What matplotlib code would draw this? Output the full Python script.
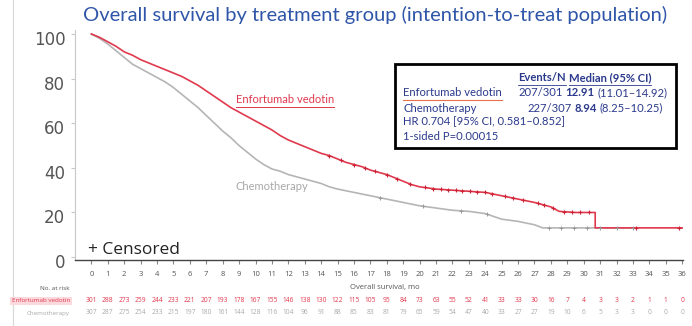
"""Overall survival Kaplan-Meier plot with numbers at risk.
"""
import numpy as np
import matplotlib
matplotlib.use('agg')
import matplotlib.pyplot as plt
from matplotlib.patches import Rectangle
from matplotlib.lines import Line2D
from matplotlib.transforms import ScaledTranslation, blended_transform_factory

plt.rcParams['font.family'] = ['Open Sans', 'DejaVu Sans']

# KM estimates, months vs % alive
ev_months = [0, 0.5, 1, 1.5, 2, 2.5, 3, 3.5, 4, 4.5, 5, 5.5, 6, 6.5, 7, 7.5,
             8, 8.5, 9, 9.5, 10, 10.5, 11, 11.5, 12, 12.5, 13, 13.5, 14, 14.5,
             15, 15.5, 16, 16.5, 17, 17.5, 18, 18.5, 19, 19.5, 20, 21, 22, 23,
             24, 25, 26, 27, 28, 28.5, 29.5, 30.7, 30.7, 36]
ev_surv = [100, 98.5, 96.5, 94.5, 92, 90.5, 88.5, 87, 85.5, 84, 82.5, 81, 79,
           77, 74.5, 72, 69.5, 67, 65, 63, 61, 59, 57, 54.5, 52.5, 51, 49.5,
           48, 46.5, 45.5, 44, 42.5, 41.5, 40.5, 39, 38, 37, 35.5, 34, 32.5,
           31.5, 30.5, 30, 29.5, 29, 27.5, 26, 24.5, 22.5, 20.5, 20, 20, 13.1,
           13.1]

chemo_months = [0, 0.5, 1, 1.5, 2, 2.5, 3, 3.5, 4, 4.5, 5, 5.5, 6, 6.5, 7,
                7.5, 8, 8.5, 9, 9.5, 10, 10.5, 11, 11.5, 12, 12.5, 13, 13.5,
                14, 14.5, 15, 16, 17, 18, 19, 20, 21, 22, 23, 24, 25, 26, 27,
                27.5, 33]
chemo_surv = [100, 98, 95.5, 92.5, 89.5, 86.5, 84.5, 82.5, 80.5, 78.5, 76, 73,
              70, 67, 63.5, 60, 56.5, 53.5, 50, 47, 44, 41.5, 39.5, 38.5, 37,
              36, 35, 34, 33, 31.5, 30.5, 29, 27.5, 26, 24.5, 23, 22, 21, 20.5,
              19.5, 17, 16, 14.5, 13.1, 13.1]

ev_censor = [14.5, 15.2, 16, 16.7, 17.3, 18, 18.6, 19.4, 20.3, 20.8, 21.3,
             21.7, 22.2, 22.6, 23.1, 23.5, 24, 24.4, 25.2, 25.7, 26.3, 27.2,
             27.6, 28.1, 28.8, 29.3, 29.8, 30.3, 33.2, 35.8]
chemo_censor = [17.6, 20.2, 22.5, 24.1, 27.9, 28.6, 29.4, 30.2, 31.0, 32.0, 33.0]

risk_months = list(range(37))
ev_at_risk = [301, 288, 273, 259, 244, 233, 221, 207, 193, 178, 167, 155, 146,
              138, 130, 122, 115, 105, 95, 84, 73, 63, 55, 52, 41, 33, 33, 30,
              16, 7, 4, 3, 3, 2, 1, 1, 0]
chemo_at_risk = [307, 287, 275, 254, 233, 215, 197, 180, 161, 144, 128, 116,
                 104, 96, 91, 88, 85, 83, 81, 79, 65, 59, 54, 47, 40, 33, 27,
                 27, 19, 10, 6, 5, 3, 3, 0, 0, 0]

W, H = 692, 326
RED = '#e0394d'
GREY = '#b5b5b5'
NAVY = '#2b3a8c'


def fx(x):
    return x / W


def fy(y):
    return 1 - y / H


def underline(fig, t, color, lw=0.8, gap=1.5):
    bb = t.get_window_extent(renderer=fig.canvas.get_renderer())
    y = (bb.y0 - gap) / H
    fig.add_artist(Line2D([bb.x0 / W, bb.x1 / W], [y, y], color=color, lw=lw))


def text_runs(fig, x, y, parts, **kw):
    """Write pieces one after another on a line, each with its own weight."""
    r = fig.canvas.get_renderer()
    out = []
    for txt, wt in parts:
        t = fig.text(fx(x), fy(y), txt, weight=wt, va='center', **kw)
        out.append(t)
        x = t.get_window_extent(renderer=r).x1 + 3
    return out


def main():
    fig = plt.figure(figsize=(W / 100, H / 100), dpi=100)
    ax = fig.add_axes([fx(75), fy(260), fx(683) - fx(75), fy(30) - fy(260)])
    ax.set_xlim(-1.0, 36.05)
    ax.set_ylim(-1.3, 101.8)

    ax.plot(chemo_months, chemo_surv, color=GREY, lw=1.2)
    ax.plot(ev_months, ev_surv, color=RED, lw=1.2)
    ax.plot(chemo_censor, np.interp(chemo_censor, chemo_months, chemo_surv),
            '+', color='#999999', ms=3.5, mew=0.7)
    ax.plot(ev_censor, np.interp(ev_censor, ev_months, ev_surv), '+',
            color='#cc2236', ms=3.5, mew=0.8)

    for s in ('top', 'right'):
        ax.spines[s].set_visible(False)
    ax.spines['left'].set_color('#c8c8c8')
    ax.spines['bottom'].set_color('#444444')
    ax.spines['bottom'].set_linewidth(1.0)

    ax.set_yticks([0, 20, 40, 60, 80, 100])
    ax.tick_params(axis='y', length=3, color='#c8c8c8', labelsize=12,
                   labelcolor='#555555', pad=4)
    off = ScaledTranslation(0, -4 / 100, fig.dpi_scale_trans)
    for lab in ax.get_yticklabels():
        lab.set_transform(lab.get_transform() + off)
        lab.set_fontfamily('DejaVu Sans')

    ax.set_xticks(risk_months)
    ax.tick_params(axis='x', length=3, color='#888888', labelsize=5.5,
                   labelcolor='#555555', pad=5)

    ax.text(-0.2, 3.0, '+ Censored', fontsize=12.5, color='#222222',
            va='center')

    t_ev = ax.text(8.8, 70.5, 'Enfortumab vedotin', fontsize=8, color=RED,
                   va='center', family='Lato')
    ax.text(8.8, 31.5, 'Chemotherapy', fontsize=8, color='#a8a8a8',
            va='center', family='Lato')

    # title
    fig.text(fx(375), fy(15), 'Overall survival by treatment group '
             '(intention-to-treat population)', ha='center', va='center',
             fontsize=14.5, color='#2f55a8', family='Lato')

    # legend box
    fig.add_artist(Rectangle((fx(395), fy(148)), fx(676) - fx(395),
                             fy(64) - fy(148), transform=fig.transFigure,
                             fill=False, ec='black', lw=2))
    box = dict(fontsize=8.1, color=NAVY, family='Lato')
    hdr = text_runs(fig, 518, 78, [('Events/N', 'bold'),
                                   ('Median (95% CI)', 'bold')], **box)
    lab1 = text_runs(fig, 403, 93, [('Enfortumab vedotin', 'normal')], **box)
    text_runs(fig, 518, 93, [('207/301', 'normal'), ('12.91', 'bold'),
                             ('(11.01–14.92)', 'normal')], **box)
    text_runs(fig, 403, 108, [('Chemotherapy', 'normal')], **box)
    text_runs(fig, 527, 108, [('227/307', 'normal'), ('8.94', 'bold'),
                              ('(8.25–10.25)', 'normal')], **box)
    text_runs(fig, 403, 122, [('HR 0.704 [95% CI, 0.581–0.852]', 'normal')],
              **box)
    text_runs(fig, 403, 137, [('1-sided P=0.00015', 'normal')], **box)

    # numbers at risk
    fig.text(fx(385), fy(288), 'Overall survival, mo', fontsize=5.5,
             color='#555555', ha='center', va='center')
    fig.text(fx(70), fy(289), 'No. at risk', fontsize=4.5, color='#555555',
             ha='right', va='center')
    fig.text(fx(70), fy(301), 'Enfortumab vedotin', fontsize=4.5, color=RED,
             ha='right', va='center',
             bbox=dict(boxstyle='square,pad=0.3', fc='#fbd9dd', ec='none'))
    fig.text(fx(70), fy(313), 'Chemotherapy', fontsize=4.5, color='#aaaaaa',
             ha='right', va='center')
    tr = blended_transform_factory(ax.transData, fig.transFigure)
    for m, n_ev, n_ch in zip(risk_months, ev_at_risk, chemo_at_risk):
        ax.text(m, fy(301), str(n_ev), transform=tr, fontsize=4.8, color=RED,
                ha='center', va='center', clip_on=False)
        ax.text(m, fy(313), str(n_ch), transform=tr, fontsize=4.8,
                color='#aaaaaa', ha='center', va='center', clip_on=False)

    # page edge
    fig.add_artist(Line2D([fx(13), fx(13)], [0, 1], color='#d8d8d8', lw=0.8))

    underline(fig, t_ev, RED, lw=0.7)
    for t in hdr:
        underline(fig, t, NAVY, lw=0.6)
    underline(fig, lab1[0], '#e8704a', lw=0.8)

    fig.savefig('out.png', dpi=100)


if __name__ == '__main__':
    main()
